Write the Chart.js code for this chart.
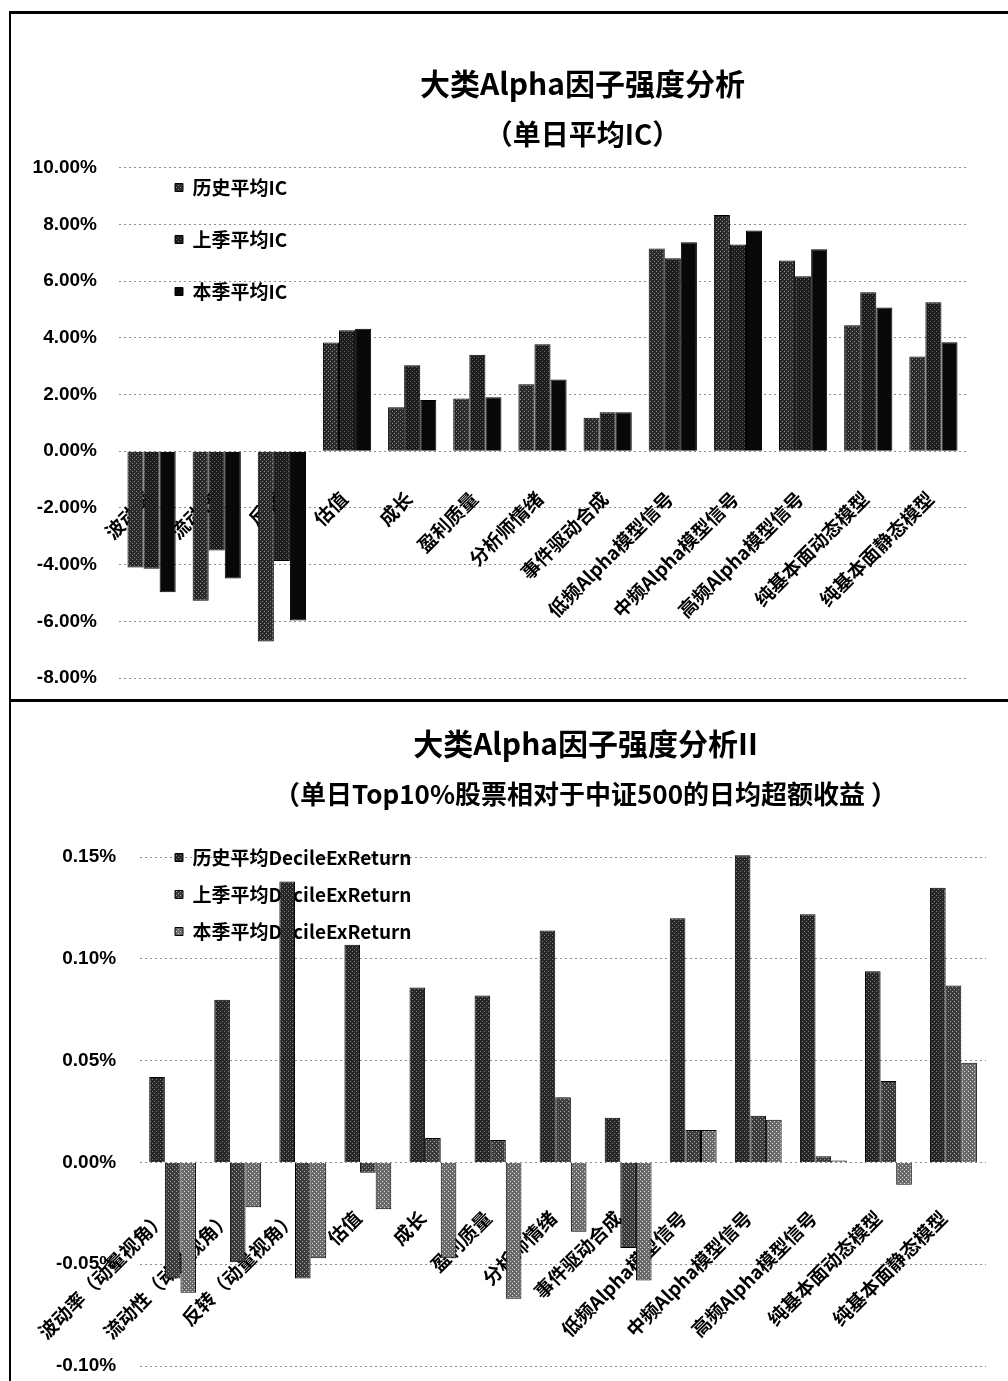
<!DOCTYPE html>
<html>
<head>
<meta charset="utf-8">
<title>大类Alpha因子强度分析</title>
<script src="https://cdn.jsdelivr.net/npm/chart.js@4.4.1/dist/chart.umd.min.js"></script>
<style>
  html, body { margin: 0; padding: 0; background: #fff; overflow: hidden; }
  #frame { position: absolute; left: 9px; top: 11px; width: 1020px; height: 1400px;
           border-left: 2px solid #000; border-top: 3px solid #000; }
  #topPanel { position: absolute; left: 0; top: 0; }
  #divider { position: absolute; left: 0; top: 685px; width: 1020px; height: 3px; background: #000; }
  #bottomPanel { position: absolute; left: 0; top: 688px; }
</style>
</head>
<body>
<div id="frame">
  <canvas id="topPanel" width="997" height="684"></canvas>
  <div id="divider"></div>
  <canvas id="bottomPanel" width="997" height="679"></canvas>
</div>
<script>
// categories
var topLabels = ['波动率', '流动性', '反转', '估值', '成长', '盈利质量', '分析师情绪', '事件驱动合成',
  '低频Alpha模型信号', '中频Alpha模型信号', '高频Alpha模型信号', '纯基本面动态模型', '纯基本面静态模型'];
var bottomLabels = ['波动率（动量视角）', '流动性（动量视角）', '反转（动量视角）', '估值', '成长', '盈利质量',
  '分析师情绪', '事件驱动合成', '低频Alpha模型信号', '中频Alpha模型信号', '高频Alpha模型信号',
  '纯基本面动态模型', '纯基本面静态模型'];

// chart 1: average daily IC (%)
var icHistory = [-4.10, -5.28, -6.71, 3.83, 1.55, 1.86, 2.36, 1.18, 7.15, 8.33, 6.72, 4.44, 3.34];
var icLastQuarter = [-4.15, -3.50, -3.87, 4.26, 3.03, 3.40, 3.77, 1.37, 6.80, 7.29, 6.17, 5.60, 5.25];
var icThisQuarter = [-4.98, -4.49, -5.97, 4.32, 1.80, 1.90, 2.53, 1.37, 7.37, 7.78, 7.12, 5.07, 3.84];

// chart 2: top decile daily excess return vs CSI500 (%)
var exHistory = [0.042, 0.080, 0.138, 0.107, 0.086, 0.082, 0.114, 0.022, 0.120, 0.151, 0.122, 0.094, 0.135];
var exLastQuarter = [-0.057, -0.049, -0.057, -0.005, 0.012, 0.011, 0.032, -0.042, 0.016, 0.023, 0.003, 0.040, 0.087];
var exThisQuarter = [-0.064, -0.022, -0.047, -0.023, -0.047, -0.067, -0.034, -0.058, 0.016, 0.021, 0.001, -0.011, 0.049];

// axis ranges
var icAxis = { min: -8, max: 10, step: 2 };
var exAxis = { min: -0.10, max: 0.15, step: 0.05 };

var CJK = "'Noto Sans CJK SC', 'Liberation Sans', sans-serif";
var NUM = "'Liberation Sans', 'DejaVu Sans', sans-serif";

// speckled fill, like the scanned print
function speckle(base, dot) {
  var c = document.createElement('canvas');
  c.width = 4; c.height = 4;
  var g = c.getContext('2d');
  g.fillStyle = base;
  g.fillRect(0, 0, 4, 4);
  if (dot) {
    g.fillStyle = dot;
    g.fillRect(1, 1, 1, 1);
    g.fillRect(3, 3, 1, 1);
  }
  return g.createPattern(c, 'repeat');
}

function pctTick(v) {
  if (Math.abs(v) < 1e-9) v = 0;
  return v.toFixed(2) + '%';
}

// moves the titles and the in-plot legend to where the original has them
var placeBoxes = {
  id: 'placeBoxes',
  afterLayout: function (chart, args, opts) {
    chart.boxes.forEach(function (b) {
      if (b !== chart.legend && b.options && b.options.text !== undefined) {
        b.left += opts.titleShift;
        b.right += opts.titleShift;
      }
    });
    var legend = chart.legend;
    if (legend) {
      legend.left = opts.legendX;
      legend.top = opts.legendY;
      legend.right = legend.left + 420;
      legend.bottom = legend.top + 320;
    }
  }
};

function makeChart(id, s) {
  var ctx = document.getElementById(id).getContext('2d');
  var sets = s.series.map(function (d) {
    return {
      label: d.label,
      data: d.data,
      backgroundColor: d.fill,
      borderColor: '#000',
      borderWidth: 1,
      barPercentage: 1,
      categoryPercentage: s.groupWidth,
      clip: false
    };
  });
  return new Chart(ctx, {
    type: 'bar',
    data: { labels: s.labels, datasets: sets },
    plugins: [placeBoxes],
    options: {
      responsive: false,
      animation: false,
      devicePixelRatio: 1,
      layout: { padding: { left: 0, right: s.padRight, top: 0, bottom: s.padBottom } },
      plugins: {
        title: {
          display: true,
          text: s.title,
          color: '#000',
          font: { family: CJK, size: 30, weight: 'bold', lineHeight: 1.2 },
          padding: { top: s.titleTop, bottom: 0 }
        },
        subtitle: {
          display: true,
          text: s.subtitle,
          color: '#000',
          font: { family: CJK, size: s.subSize, weight: 'bold', lineHeight: 1.2 },
          padding: { top: s.subTop, bottom: s.subBottom }
        },
        legend: {
          position: 'chartArea',
          align: 'start',
          labels: {
            boxWidth: 8,
            boxHeight: 8,
            padding: s.legendGap,
            color: '#000',
            font: { family: CJK, size: 19, weight: 'bold' }
          }
        },
        tooltip: { enabled: false },
        placeBoxes: { titleShift: s.titleShift, legendX: s.legendX, legendY: s.legendY }
      },
      scales: {
        x: {
          position: { y: 0 },
          grid: { display: false },
          border: { display: false },
          ticks: {
            autoSkip: false,
            minRotation: 45,
            maxRotation: 45,
            padding: s.labelPad,
            labelOffset: s.labelShift,
            color: '#000',
            font: { family: CJK, size: 19, weight: 'bold' }
          }
        },
        y: {
          min: s.axis.min,
          max: s.axis.max,
          afterFit: function (scale) { scale.width = s.axisWidth; },
          grid: { color: '#8c8c8c', lineWidth: 1, drawTicks: true, tickLength: s.tickGap, tickColor: 'rgba(0,0,0,0)' },
          border: { display: false, dash: [2, 3] },
          ticks: {
            stepSize: s.axis.step,
            padding: 2,
            color: '#000',
            font: { family: NUM, size: 19, weight: 'bold' },
            callback: pctTick
          }
        }
      }
    }
  });
}

makeChart('topPanel', {
  labels: topLabels,
  title: '大类Alpha因子强度分析',
  subtitle: '（单日平均IC）',
  subSize: 28,
  series: [
    { label: '历史平均IC', data: icHistory, fill: speckle('#2a2a2a', '#8a8a8a') },
    { label: '上季平均IC', data: icLastQuarter, fill: speckle('#1c1c1c', '#686868') },
    { label: '本季平均IC', data: icThisQuarter, fill: '#080808' }
  ],
  axis: icAxis,
  groupWidth: 0.74,
  padRight: 42,
  padBottom: 20,
  titleTop: 52,
  subTop: 16,
  subBottom: 16,
  titleShift: 94,
  axisWidth: 108,
  tickGap: 20,
  labelPad: 28,
  labelShift: -3,
  legendGap: 33,
  legendX: 131,
  legendY: 131
});

makeChart('bottomPanel', {
  labels: bottomLabels,
  title: '大类Alpha因子强度分析II',
  subtitle: '（单日Top10%股票相对于中证500的日均超额收益 ）',
  subSize: 26,
  series: [
    { label: '历史平均DecileExReturn', data: exHistory, fill: speckle('#262626', '#848484') },
    { label: '上季平均DecileExReturn', data: exLastQuarter, fill: speckle('#3c3c3c', '#a4a4a4') },
    { label: '本季平均DecileExReturn', data: exThisQuarter, fill: speckle('#6a6a6a', '#d8d8d8') }
  ],
  axis: exAxis,
  groupWidth: 0.72,
  padRight: 22,
  padBottom: 15,
  titleTop: 24,
  subTop: 17,
  subBottom: 47,
  titleShift: 87,
  axisWidth: 123,
  tickGap: 22,
  labelPad: 36,
  labelShift: -10,
  legendGap: 18,
  legendX: 146,
  legendY: 128
});
</script>
</body>
</html>
